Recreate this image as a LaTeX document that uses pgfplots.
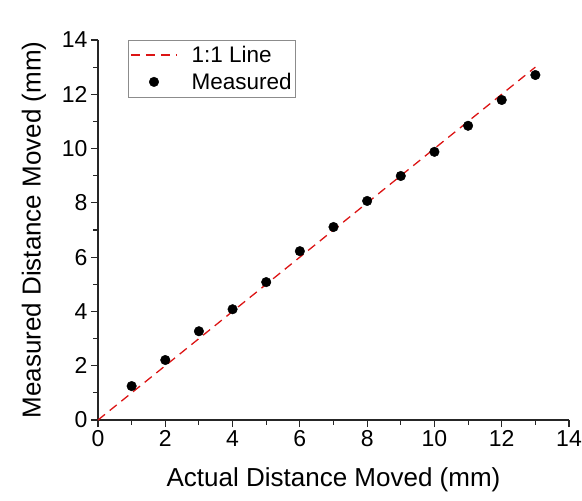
\documentclass[border=0pt]{standalone}
\usepackage{fontspec}
\setmainfont{Liberation Sans}
\usepackage{pgfplots}
\pgfplotsset{compat=1.18}
\definecolor{lred}{RGB}{220,20,20}
\pgfplotsset{
  linelegend/.style={legend image code/.code={%
    \draw[draw=lred, line width=1.3pt, dash pattern=on 9pt off 6pt] (0pt,0pt) -- (46pt,0pt);
    \path (58pt,0pt);}},
  marklegend/.style={legend image code/.code={%
    \fill[black] (23pt,0pt) circle (4.8pt);
    \path (0pt,0pt) (58pt,0pt);}},
}
\begin{document}
\begin{tikzpicture}
\begin{axis}[
  name=ax,
  scale only axis,
  width=471pt, height=380pt,
  xmin=0, xmax=14, ymin=0, ymax=14,
  xtick={0,2,...,14}, ytick={0,2,...,14},
  minor xtick={1,3,...,13}, minor ytick={1,3,...,13},
  axis lines*=left,
  axis line style={line width=1.3pt, black!85},
  tick style={line width=1.1pt, black!85},
  tick align=outside,
  major tick length=7pt, minor tick length=4.5pt,
  /pgf/number format/assume math mode=true,
  tick label style={font=\fontsize{23}{26}\selectfont},
  label style={font=\fontsize{26}{29}\selectfont},
  xlabel={Actual Distance Moved (mm)},
  ylabel={Measured Distance Moved (mm)},
  xlabel style={yshift=-14pt},
  ylabel style={yshift=9pt},
  legend style={name=leg, at={(rel axis cs:0.064,1)}, anchor=north west,
    font=\fontsize{22.5}{25}\selectfont, draw=none, fill=none,
    inner xsep=2pt, inner ysep=4pt, row sep=5pt},
  legend cell align=left,
  clip=false,
]
\addplot[lred, line width=1.3pt, dash pattern=on 9pt off 6pt, linelegend] coordinates {(0,0) (13,13)};
\addlegendentry{1:1 Line}
\addplot[only marks, mark=*, mark size=4.8pt, black, marklegend] coordinates {
(1,1.25) (2,2.21) (3,3.27) (4,4.08) (5,5.08) (6,6.22) (7,7.11)
(8,8.07) (9,8.99) (10,9.88) (11,10.84) (12,11.79) (13,12.71)};
\addlegendentry{Measured}
\end{axis}
\draw[black!45, line width=0.8pt] (leg.south west) rectangle (leg.north east);
\pgfresetboundingbox
\path[use as bounding box] ([shift={(-98pt,-80pt)}]ax.south west) rectangle ([shift={(13pt,40pt)}]ax.north east);
\end{tikzpicture}
\end{document}
